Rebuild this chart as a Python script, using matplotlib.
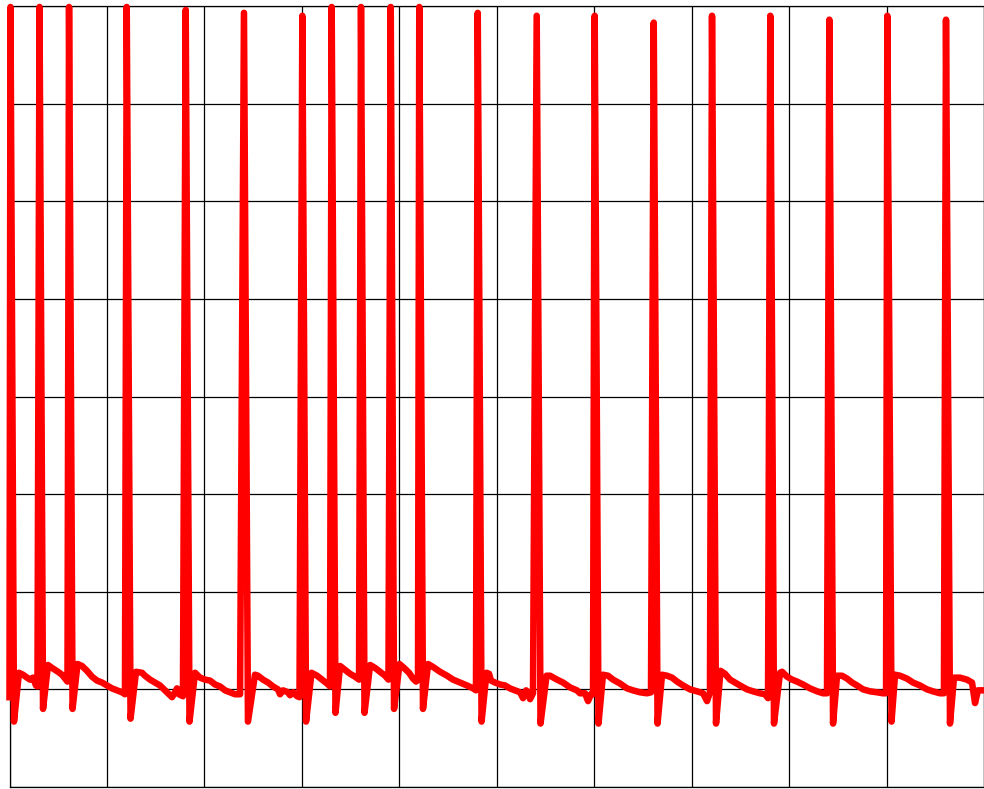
import numpy as np
import matplotlib
matplotlib.use("Agg")
import matplotlib.pyplot as plt

# ECG-like trace, time in seconds, amplitude in grid units (one row = 1)
t = [
    0.000, 0.010, 0.046, 0.097, 0.139, 0.180, 0.210, 0.241, 0.272, 0.287,
    0.308, 0.344, 0.395, 0.436, 0.498, 0.539, 0.580, 0.595,
    0.611, 0.647, 0.698, 0.744, 0.795, 0.847, 0.898, 0.949, 1.001, 1.052, 1.103, 1.155, 1.185,
    1.203, 1.242, 1.298, 1.360, 1.390, 1.442, 1.493, 1.544, 1.596, 1.626, 1.668, 1.698, 1.719, 1.739, 1.780,
    1.808, 1.847, 1.904, 1.955, 2.006, 2.058, 2.109, 2.160, 2.212, 2.263, 2.314, 2.366,
    2.406, 2.447, 2.519, 2.550, 2.601, 2.653, 2.704, 2.755, 2.776, 2.807, 2.858, 2.879, 2.910, 2.951, 2.976,
    3.005, 3.043, 3.099, 3.156, 3.207, 3.258, 3.289,
    3.306, 3.345, 3.392, 3.443, 3.494, 3.546, 3.587,
    3.607, 3.643, 3.700, 3.751, 3.802, 3.854, 3.889,
    3.912, 3.946, 4.002, 4.048, 4.100, 4.141, 4.172, 4.192,
    4.205, 4.243, 4.295, 4.346, 4.418, 4.490, 4.551, 4.623, 4.695, 4.757, 4.787,
    4.805, 4.844, 4.895, 4.921, 4.941, 4.982, 5.034, 5.085, 5.136, 5.187, 5.239, 5.270, 5.301, 5.321, 5.342, 5.372,
    5.410, 5.449, 5.511, 5.547, 5.618, 5.680, 5.752, 5.823, 5.854, 5.906, 5.937, 5.967, 5.988,
    6.005, 6.044, 6.090, 6.142, 6.193, 6.265, 6.337, 6.398, 6.470, 6.542, 6.583,
    6.611, 6.650, 6.696, 6.747, 6.799, 6.850, 6.912, 6.983, 7.055, 7.117, 7.158, 7.188,
    7.209, 7.250, 7.296, 7.342, 7.394, 7.445, 7.496, 7.568, 7.630, 7.701, 7.753, 7.784,
    7.807, 7.845, 7.907, 7.928, 7.979, 8.030, 8.081, 8.143, 8.215, 8.287, 8.348, 8.389,
    8.413, 8.451, 8.492, 8.543, 8.595, 8.646, 8.697, 8.759, 8.831, 8.903, 8.964, 8.995,
    9.008, 9.051, 9.087, 9.138, 9.210, 9.271, 9.343, 9.415, 9.476, 9.548, 9.589,
    9.610, 9.651, 9.692, 9.754, 9.825, 9.877, 9.908, 9.938, 10.000,
]
v = [
    0.92, 7.99, 0.67, 1.17, 1.15, 1.12, 1.10, 1.12, 1.04, 1.03,
    7.99, 0.80, 1.25, 1.22, 1.18, 1.15, 1.10, 1.08,
    7.99, 0.80, 1.26, 1.24, 1.19, 1.13, 1.09, 1.07, 1.04, 1.01, 0.99, 0.97, 0.95,
    7.99, 0.70, 1.18, 1.17, 1.14, 1.10, 1.07, 1.04, 0.99, 0.96, 0.92, 0.97, 1.01, 0.95, 0.93,
    7.96, 0.67, 1.17, 1.12, 1.10, 1.09, 1.05, 1.03, 0.99, 0.97, 0.95, 0.95,
    7.93, 0.67, 1.15, 1.14, 1.10, 1.07, 1.03, 1.00, 0.95, 0.99, 0.97, 0.94, 0.97, 0.93, 0.92,
    7.90, 0.67, 1.17, 1.14, 1.10, 1.06, 1.03,
    7.99, 0.76, 1.24, 1.20, 1.16, 1.13, 1.10,
    7.99, 0.76, 1.25, 1.22, 1.18, 1.14, 1.10,
    7.99, 0.80, 1.26, 1.22, 1.17, 1.11, 1.08, 1.10,
    7.99, 0.80, 1.26, 1.23, 1.18, 1.14, 1.10, 1.07, 1.04, 1.01, 0.99,
    7.93, 0.67, 1.17, 1.16, 1.09, 1.07, 1.05, 1.04, 1.01, 0.99, 0.97, 0.91, 0.99, 0.97, 0.90, 0.96,
    7.90, 0.65, 1.14, 1.14, 1.10, 1.07, 1.02, 0.99, 0.96, 0.96, 0.88, 0.95, 0.95,
    7.90, 0.65, 1.15, 1.14, 1.10, 1.06, 1.01, 0.99, 0.97, 0.96, 0.97,
    7.83, 0.65, 1.15, 1.14, 1.12, 1.08, 1.04, 1.00, 0.98, 0.96, 0.88, 0.97,
    7.90, 0.65, 1.19, 1.16, 1.10, 1.07, 1.04, 1.00, 0.98, 0.96, 0.95, 0.91,
    7.90, 0.65, 1.17, 1.18, 1.13, 1.10, 1.08, 1.05, 1.01, 0.98, 0.96, 0.96,
    7.86, 0.65, 1.14, 1.14, 1.11, 1.07, 1.04, 1.00, 0.98, 0.97, 0.96, 0.96,
    7.90, 0.67, 1.15, 1.14, 1.11, 1.07, 1.04, 1.00, 0.98, 0.96, 0.96,
    7.86, 0.65, 1.12, 1.12, 1.10, 1.07, 0.86, 0.99, 0.99,
]

fig = plt.figure(figsize=(9.84, 7.89), dpi=100)
ax = fig.add_axes([9.5 / 984, 2 / 789, 974.5 / 984, 781 / 789])

ax.plot(t, v, color='#ff0000', linewidth=4.7, clip_on=False, zorder=3)

ax.set_xlim(0, 10)
ax.set_ylim(0, 8)
ax.set_xticks(np.arange(0, 11, 1))
ax.set_yticks(np.arange(0, 9, 1))
ax.tick_params(length=0, labelbottom=False, labelleft=False)
ax.grid(True, color='black', linewidth=0.9)
for s in ax.spines.values():
    s.set_color('black')
    s.set_linewidth(0.9)

fig.savefig('out.png', dpi=100)
